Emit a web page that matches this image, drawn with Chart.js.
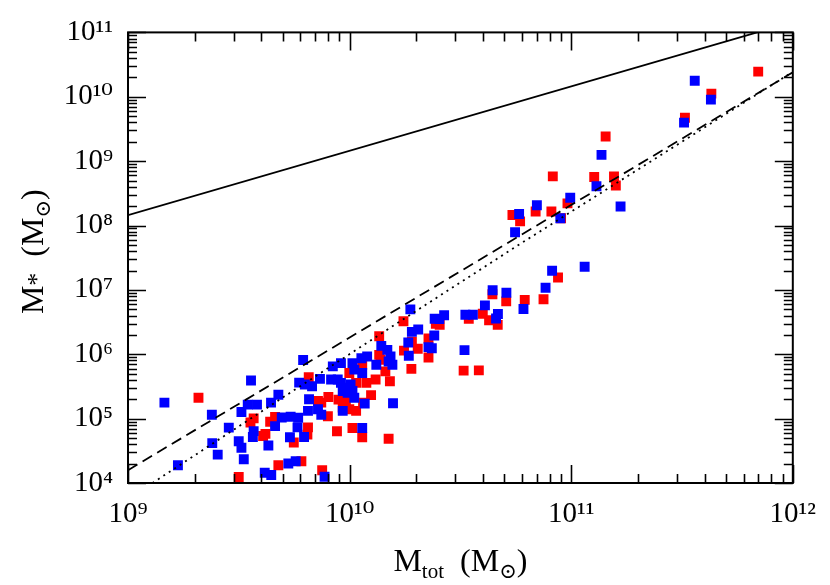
<!DOCTYPE html>
<html>
<head>
<meta charset="utf-8">
<script src="https://cdn.jsdelivr.net/npm/chart.js@4/dist/chart.umd.min.js"></script>
<style>
html, body { margin: 0; padding: 0; background: #ffffff; }
#wrap { width: 830px; height: 585px; }
</style>
</head>
<body>
<div id="wrap"><canvas id="c" width="830" height="585"></canvas></div>
<script>
// ---- tick decades and labels ----
const xDecades = [9, 10, 11, 12];
const yDecades = [4, 5, 6, 7, 8, 9, 10, 11];
const xTickLabels = ['10⁹', '10¹⁰', '10¹¹', '10¹²'];
const yTickLabels = ['10⁴', '10⁵', '10⁶', '10⁷', '10⁸', '10⁹', '10¹⁰', '10¹¹'];

// ---- axis titles (main text, subscript) ----
const xTitleParts = [['M', 'main'], ['tot', 'sub'], ['  (', 'main'], ['M', 'main'], ['⊙', 'sub'], [')', 'main']];
const yTitleParts = [['M', 'main'], ['*', 'star'], ['  (', 'main'], ['M', 'main'], ['⊙', 'sub'], [')', 'main']];

// ---- reference lines ----
const solidLineX = [1e9, 1e12];
const solidLineY = [1.45e8, 1.45e11];
const dashedLineX = [1e9, 1e12];
const dashedLineY = [1.58e4, 2.4e10];
const dottedLineX = [1.29e9, 5.01e9, 1.74e10, 5.62e10, 1e12];
const dottedLineY = [1e4, 2.14e5, 3.47e6, 4.68e7, 2.45e10];

// ---- blue galaxies ----
const blueMtot = [1.46e9, 1.68e9, 2.39e9, 2.40e9, 2.54e9, 2.85e9, 3.16e9, 3.25e9, 3.33e9, 3.25e9,
  3.59e9, 3.47e9, 3.82e9, 4.42e9, 4.77e9, 3.69e9, 3.66e9, 4.30e9, 4.61e9, 4.94e9,
  5.42e9, 5.38e9, 4.14e9, 4.43e9, 5.29e9, 5.71e9, 7.71e9, 5.86e9, 5.82e9, 6.23e9,
  5.92e9, 6.28e9, 6.77e9, 7.35e9, 6.17e9, 6.56e9, 6.49e9, 7.20e9, 7.45e9, 8.40e9,
  9.14e9, 1.03e10, 1.13e10, 1.20e10, 1.05e10, 1.14e10, 8.25e9, 8.84e9, 9.14e9, 9.62e9,
  1.01e10, 1.03e10, 9.80e9, 9.31e9, 1.05e10, 1.17e10, 9.31e9, 1.14e10, 1.32e10, 1.39e10,
  1.48e10, 1.53e10, 1.50e10, 1.56e10, 1.57e10, 1.85e10, 1.84e10, 1.88e10, 1.91e10, 2.04e10,
  2.41e10, 2.27e10, 2.35e10, 2.42e10, 2.54e10, 2.67e10, 3.30e10, 3.33e10, 3.60e10, 4.08e10,
  4.42e10, 5.10e10, 4.67e10, 4.58e10, 5.58e10, 5.82e10, 7.00e10, 8.93e10, 9.90e10, 1.30e11,
  1.67e11, 1.37e11, 6.09e10, 7.66e10, 8.20e10, 1.15e11, 3.23e11, 3.61e11, 4.27e11];
const blueMstar = [1.77e5, 1.89e4, 1.15e5, 4.16e4, 2.76e4, 7.24e4, 4.46e4, 3.53e4, 2.34e4, 1.27e5,
  3.91e5, 1.65e5, 1.65e5, 1.77e5, 2.35e5, 6.40e4, 5.18e4, 3.83e4, 7.64e4, 1.04e5,
  1.07e5, 5.14e4, 1.44e4, 1.33e4, 2.01e4, 2.18e4, 1.25e4, 1.03e5, 7.31e4, 5.18e4,
  3.62e5, 3.39e5, 3.19e5, 4.14e5, 8.15e5, 2.00e5, 1.32e5, 1.40e5, 1.15e5, 6.48e5,
  7.28e5, 7.28e5, 8.69e5, 9.23e5, 5.77e5, 5.11e5, 4.05e5, 4.05e5, 3.59e5, 3.01e5,
  3.39e5, 2.68e5, 2.52e5, 2.68e5, 2.11e5, 1.71e5, 1.32e5, 7.16e4, 6.88e5, 1.35e6,
  1.17e6, 9.23e5, 7.73e5, 6.88e5, 1.73e5, 9.46e5, 1.52e6, 4.98e6, 2.23e6, 2.42e6,
  1.96e6, 1.29e6, 1.24e6, 3.57e6, 3.53e6, 4.03e6, 1.16e6, 4.11e6, 4.11e6, 5.74e6,
  9.86e6, 9.02e6, 4.22e6, 3.60e6, 7.85e7, 1.51e8, 2.06e8, 1.30e8, 2.70e8, 4.07e8,
  1.97e8, 1.25e9, 5.04e6, 1.08e7, 1.98e7, 2.29e7, 3.97e9, 1.77e10, 9.04e9];

// ---- red galaxies ----
const redMtot = [2.08e9, 3.16e9, 3.57e9, 3.69e9, 4.07e9, 4.17e9, 4.38e9, 4.61e9, 4.77e9, 5.60e9,
  6.06e9, 7.52e9, 6.49e9, 6.45e9, 6.54e9, 7.20e9, 7.45e9, 8.02e9, 8.91e9, 9.62e9,
  7.98e9, 8.77e9, 9.31e9, 9.97e9, 1.07e10, 1.03e10, 1.14e10, 1.50e10, 1.15e10, 1.25e10,
  1.19e10, 1.31e10, 1.07e10, 9.97e9, 1.14e10, 1.52e10, 1.45e10, 1.36e10, 1.38e10, 1.36e10,
  1.75e10, 1.91e10, 1.76e10, 2.03e10, 1.90e10, 2.27e10, 2.27e10, 2.55e10, 2.45e10, 3.45e10,
  3.27e10, 3.83e10, 3.99e10, 4.26e10, 4.66e10, 4.41e10, 5.09e10, 6.17e10, 7.50e10, 8.72e10,
  5.43e10, 5.88e10, 6.91e10, 8.14e10, 9.00e10, 9.62e10, 8.26e10, 1.27e11, 1.56e11, 1.59e11,
  1.43e11, 3.26e11, 4.29e11, 6.98e11];
const redMstar = [2.11e5, 1.24e4, 8.73e4, 1.01e5, 5.36e4, 5.79e4, 8.95e4, 1.06e5, 1.89e4, 4.26e4,
  2.18e4, 1.58e4, 7.31e4, 5.65e4, 4.39e5, 1.88e5, 1.77e5, 2.17e5, 1.97e5, 1.88e5,
  1.09e5, 6.35e4, 1.48e5, 1.40e5, 1.32e5, 7.16e4, 5.14e4, 4.86e4, 1.77e5, 2.32e5,
  3.59e5, 4.05e5, 3.59e5, 5.11e5, 6.88e5, 3.81e5, 5.43e5, 9.79e5, 8.21e5, 1.90e6,
  3.26e6, 1.57e6, 1.14e6, 1.22e6, 5.93e5, 1.76e6, 8.91e5, 2.86e6, 2.96e6, 3.57e6,
  5.56e5, 5.62e5, 4.26e6, 3.38e6, 2.86e6, 8.55e6, 6.64e6, 7.00e6, 7.16e6, 1.56e7,
  1.46e8, 1.16e8, 1.65e8, 1.65e8, 1.30e8, 2.21e8, 5.80e8, 5.68e8, 5.80e8, 4.18e8,
  2.42e9, 4.73e9, 1.12e10, 2.46e10];

function pairs(xs, ys) { return xs.map((v, i) => ({ x: v, y: ys[i] })); }

function decadeLabel(decades, labels) {
  return function (value) {
    const l = Math.log10(value);
    const r = Math.round(l);
    if (Math.abs(l - r) > 1e-6) return '';
    const i = decades.indexOf(r);
    return i >= 0 ? labels[i] : '';
  };
}

const fontFam = "'Liberation Serif', 'DejaVu Serif', serif";
const partStyle = {
  main: { size: 32, dy: 0 },
  sub: { size: 21, dy: 7 },
  star: { size: 26, dy: 2 }
};

function drawRich(ctx, parts, cx, baseY) {
  let total = 0;
  const widths = parts.map(([t, k]) => {
    ctx.font = partStyle[k].size + 'px ' + fontFam;
    const w = ctx.measureText(t).width;
    total += w;
    return w;
  });
  let x = cx - total / 2;
  parts.forEach(([t, k], i) => {
    ctx.font = partStyle[k].size + 'px ' + fontFam;
    ctx.fillText(t, x, baseY + partStyle[k].dy);
    x += widths[i];
  });
}

// axis titles with real subscripts, placed relative to the chart area
const axisTitles = {
  id: 'axisTitles',
  afterDraw(chart) {
    const ctx = chart.ctx;
    const a = chart.chartArea;
    ctx.save();
    ctx.fillStyle = '#000';
    ctx.textBaseline = 'alphabetic';
    ctx.textAlign = 'left';
    drawRich(ctx, xTitleParts, (a.left + a.right) / 2, a.bottom + 88);
    ctx.translate(a.left - 85, (a.top + a.bottom) / 2 - 6);
    ctx.rotate(-Math.PI / 2);
    drawRich(ctx, yTitleParts, 0, 0);
    ctx.restore();
  }
};

// inward ticks on all four sides + frame, positioned by the chart's scales
const frameTicks = {
  id: 'frameTicks',
  afterDatasetsDraw(chart) {
    const ctx = chart.ctx;
    const a = chart.chartArea;
    const xs = chart.scales.x, ys = chart.scales.y;
    ctx.save();
    ctx.strokeStyle = '#000';
    ctx.lineWidth = 1.6;
    ctx.beginPath();
    const xMax = xs.max * 1.0001, yMax = ys.max * 1.0001;
    for (let e = xDecades[0]; e <= xDecades[xDecades.length - 1]; e++) {
      for (let m = 1; m <= 9; m++) {
        const v = m * Math.pow(10, e);
        if (v > xMax) break;
        const px = Math.round(xs.getPixelForValue(v)) + 0.5;
        const len = m === 1 ? 18 : 9;
        ctx.moveTo(px, a.bottom); ctx.lineTo(px, a.bottom - len);
        ctx.moveTo(px, a.top); ctx.lineTo(px, a.top + len);
      }
    }
    for (let e = yDecades[0]; e <= yDecades[yDecades.length - 1]; e++) {
      for (let m = 1; m <= 9; m++) {
        const v = m * Math.pow(10, e);
        if (v > yMax) break;
        const py = Math.round(ys.getPixelForValue(v)) + 0.5;
        const len = m === 1 ? 18 : 9;
        ctx.moveTo(a.left, py); ctx.lineTo(a.left + len, py);
        ctx.moveTo(a.right, py); ctx.lineTo(a.right - len, py);
      }
    }
    ctx.stroke();
    ctx.lineWidth = 2;
    ctx.strokeRect(a.left, a.top, a.right - a.left, a.bottom - a.top);
    ctx.restore();
  }
};

new Chart(document.getElementById('c').getContext('2d'), {
  type: 'scatter',
  data: {
    datasets: [
      { label: 'solid', data: pairs(solidLineX, solidLineY), showLine: true, borderColor: '#000',
        borderWidth: 1.8, pointRadius: 0, pointHoverRadius: 0, fill: false },
      { label: 'dashed', data: pairs(dashedLineX, dashedLineY), showLine: true, borderColor: '#000',
        borderWidth: 1.8, borderDash: [11, 6], pointRadius: 0, pointHoverRadius: 0, fill: false },
      { label: 'dotted', data: pairs(dottedLineX, dottedLineY), showLine: true, borderColor: '#000',
        borderWidth: 1.8, borderDash: [2, 4.5], pointRadius: 0, pointHoverRadius: 0, fill: false },
      { label: 'blue', data: pairs(blueMtot, blueMstar), backgroundColor: '#0000ff', borderWidth: 0,
        pointStyle: 'rect', pointRadius: 7, pointHoverRadius: 7 },
      { label: 'red', data: pairs(redMtot, redMstar), backgroundColor: '#ff0000', borderWidth: 0,
        pointStyle: 'rect', pointRadius: 7, pointHoverRadius: 7 }
    ]
  },
  options: {
    responsive: false,
    animation: false,
    devicePixelRatio: 1,
    layout: { padding: { top: 27, right: 30, left: 0, bottom: 0 } },
    plugins: { legend: { display: false }, tooltip: { enabled: false } },
    scales: {
      x: {
        type: 'logarithmic', min: 1e9, max: 1e12,
        grid: { display: false, drawTicks: false },
        border: { display: false },
        ticks: { autoSkip: false, maxRotation: 0, padding: 14, color: '#000',
          font: { family: fontFam, size: 29 }, callback: decadeLabel(xDecades, xTickLabels) },
        title: { display: false },
        afterFit(s) { s.height = 102; }
      },
      y: {
        type: 'logarithmic', min: 1e4, max: 1e11,
        grid: { display: false, drawTicks: false },
        border: { display: false },
        ticks: { autoSkip: false, padding: 15, color: '#000',
          font: { family: fontFam, size: 29 }, callback: decadeLabel(yDecades, yTickLabels) },
        title: { display: false },
        afterFit(s) { s.width = 128; }
      }
    }
  },
  plugins: [frameTicks, axisTitles]
});
</script>
</body>
</html>
